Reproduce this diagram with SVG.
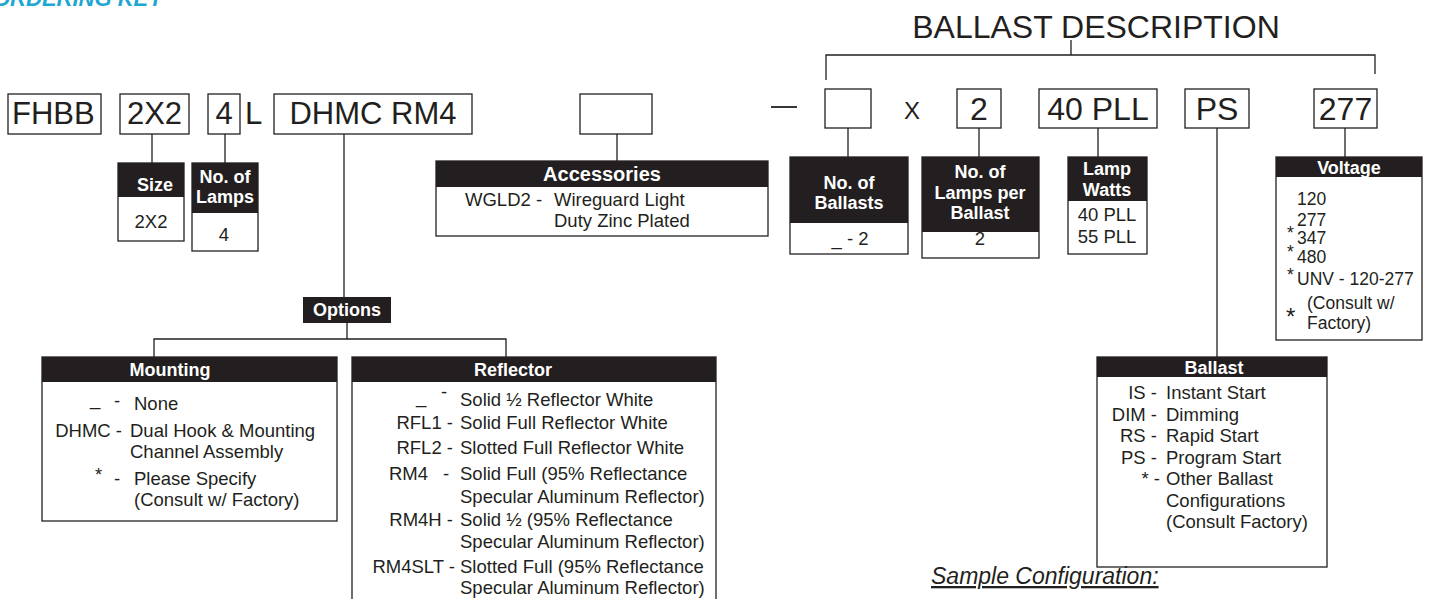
<svg xmlns="http://www.w3.org/2000/svg" width="1432" height="599" viewBox="0 0 1432 599">
<style>
.box{fill:#fff;stroke:#231f20;stroke-width:1.3}
.hdr{fill:#231f20}
.ln{stroke:#231f20;stroke-width:1.3;fill:none}
text{font-family:"Liberation Sans",Arial,Helvetica,sans-serif;fill:#231f20}
.ht{font-weight:bold;font-size:18px;fill:#fff;text-anchor:middle}
.t{font-size:18.5px}
.v{font-size:17.5px}
.e{text-anchor:end}
.m{text-anchor:middle}
.big{font-size:31px}
.bg2{font-size:32px;text-anchor:middle}
</style>
<rect width="1432" height="599" fill="#fff"/>
<text x="-7" y="6" font-size="22" font-style="italic" font-weight="bold" style="fill:#1ea7d2">ORDERING KEY</text>
<text x="1096" y="38" font-size="32" class="m">BALLAST DESCRIPTION</text>

<g id="connectors">
  <path class="ln" d="M1071 40V55M826 80V55H1375V74"/>
  <path class="ln" d="M152 134V163M225 134V163"/>
  <path class="ln" d="M344 134V297M347 323V339M154 357V339H506V357"/>
  <path class="ln" d="M617 134V161"/>
  <path class="ln" d="M848 128V157M979 128V157M1098 128V157M1217 128V357M1345 128V157"/>
  <line x1="771" y1="107" x2="797" y2="107" stroke="#231f20" stroke-width="1.8"/>
</g>

<g id="code-fhbb"><rect class="box" x="8" y="94" width="93" height="40"/><text class="big" x="12" y="124">FHBB</text></g>
<g id="code-size"><rect class="box" x="120" y="94" width="69" height="40"/><text class="big m" x="154.5" y="124">2X2</text></g>
<g id="code-lamps"><rect class="box" x="208" y="94" width="32" height="40"/><text class="big m" x="224" y="124">4</text><text class="big" x="245" y="124">L</text></g>
<g id="code-options"><rect class="box" x="274" y="94" width="198" height="40"/><text class="big m" x="373" y="124">DHMC RM4</text></g>
<g id="code-accessories"><rect class="box" x="580" y="94" width="72" height="40"/></g>
<g id="code-ballasts"><rect class="box" x="825" y="89" width="46" height="39"/></g>
<g id="x-sign"><text x="912" y="119" font-size="24" class="m">X</text></g>
<g id="code-lpb"><rect class="box" x="957" y="89" width="44" height="39"/><text class="bg2" x="979" y="120">2</text></g>
<g id="code-watts"><rect class="box" x="1039" y="89" width="118" height="39"/><text class="bg2" x="1098" y="120">40 PLL</text></g>
<g id="code-ballast"><rect class="box" x="1185" y="89" width="64" height="39"/><text class="bg2" x="1217" y="120">PS</text></g>
<g id="code-voltage"><rect class="box" x="1314" y="89" width="63" height="39"/><text class="bg2" x="1345.5" y="120">277</text></g>

<g id="size">
  <rect class="box" x="118" y="163" width="66" height="78"/><rect class="hdr" x="118" y="163" width="66" height="34"/>
  <text class="ht" x="155" y="191">Size</text>
  <text class="t m" x="151" y="228">2X2</text>
</g>
<g id="no-of-lamps">
  <rect class="box" x="192" y="163" width="66" height="88"/><rect class="hdr" x="192" y="163" width="66" height="50"/>
  <text class="ht" x="225" y="183">No. of</text><text class="ht" x="225" y="203">Lamps</text>
  <text class="t m" x="224" y="241">4</text>
</g>
<g id="accessories">
  <rect class="box" x="436" y="161" width="332" height="75"/><rect class="hdr" x="436" y="161" width="332" height="26"/>
  <text class="ht" x="602" y="181" style="font-size:20px">Accessories</text>
  <text class="t" x="465" y="206">WGLD2 -</text>
  <text class="t" x="554" y="206">Wireguard Light</text>
  <text class="t" x="554" y="227">Duty Zinc Plated</text>
</g>
<g id="no-of-ballasts">
  <rect class="box" x="790" y="157" width="118" height="97"/><rect class="hdr" x="790" y="157" width="118" height="66"/>
  <text class="ht" x="849" y="189">No. of</text><text class="ht" x="849" y="209">Ballasts</text>
  <text class="t m" x="850" y="245">_ - 2</text>
</g>
<g id="lamps-per-ballast">
  <rect class="box" x="922" y="157" width="117" height="101"/><rect class="hdr" x="922" y="157" width="117" height="75"/>
  <text class="ht" x="980" y="178">No. of</text><text class="ht" x="980" y="199">Lamps per</text><text class="ht" x="980" y="219">Ballast</text>
  <text class="t m" x="980" y="245">2</text>
</g>
<g id="lamp-watts">
  <rect class="box" x="1068" y="157" width="79" height="97"/><rect class="hdr" x="1068" y="157" width="79" height="44"/>
  <text class="ht" x="1107" y="175">Lamp</text><text class="ht" x="1107" y="196">Watts</text>
  <text class="t m" x="1107" y="221">40 PLL</text><text class="t m" x="1107" y="243">55 PLL</text>
</g>
<g id="voltage">
  <rect class="box" x="1276" y="157" width="146" height="183"/><rect class="hdr" x="1276" y="157" width="146" height="20"/>
  <text class="ht" x="1349" y="174">Voltage</text>
  <text class="v" x="1297" y="205">120</text>
  <text class="v" x="1297" y="226">277</text>
  <text class="v" x="1287" y="239">*</text><text class="v" x="1297" y="244">347</text>
  <text class="v" x="1287" y="258">*</text><text class="v" x="1297" y="263">480</text>
  <text class="v" x="1287" y="281">*</text><text class="v" x="1297" y="285">UNV - 120-277</text>
  <text x="1286" y="325" font-size="24">*</text><text class="v" x="1307" y="309">(Consult w/</text>
  <text class="v" x="1307" y="329">Factory)</text>
</g>
<g id="options">
  <rect class="hdr" x="303" y="297" width="88" height="26"/>
  <text class="ht" x="347" y="316">Options</text>
</g>
<g id="mounting">
  <rect class="box" x="42" y="357" width="295" height="164"/><rect class="hdr" x="42" y="357" width="295" height="25"/>
  <text class="ht" x="170" y="376">Mounting</text>
  <text class="t" x="90" y="405">_</text><text class="t" x="114" y="407">-</text><text class="t" x="134" y="410">None</text>
  <text class="t e" x="122" y="437">DHMC -</text>
  <text class="t" x="130" y="437">Dual Hook &amp; Mounting</text>
  <text class="t" x="130" y="458">Channel Assembly</text>
  <text class="t" x="95" y="481">*</text><text class="t" x="114" y="485">-</text><text class="t" x="134" y="485">Please Specify</text>
  <text class="t" x="134" y="506">(Consult w/ Factory)</text>
</g>
<g id="reflector">
  <rect class="box" x="352" y="357" width="364" height="250"/><rect class="hdr" x="352" y="357" width="364" height="25"/>
  <text class="ht" x="513" y="376">Reflector</text>
  <text class="t" x="416" y="403">_</text><text class="t" x="441" y="398">-</text><text class="t" x="460" y="406">Solid ½ Reflector White</text>
  <text class="t e" x="453" y="429">RFL1 -</text><text class="t" x="460" y="429">Solid Full Reflector White</text>
  <text class="t e" x="453" y="454">RFL2 -</text><text class="t" x="460" y="454">Slotted Full Reflector White</text>
  <text class="t e" x="428" y="480">RM4</text><text class="t" x="443" y="480">-</text><text class="t" x="460" y="480">Solid Full (95% Reflectance</text>
  <text class="t" x="460" y="503">Specular Aluminum Reflector)</text>
  <text class="t e" x="453" y="526">RM4H -</text><text class="t" x="460" y="526">Solid ½ (95% Reflectance</text>
  <text class="t" x="460" y="548">Specular Aluminum Reflector)</text>
  <text class="t e" x="455" y="573">RM4SLT -</text><text class="t" x="460" y="573">Slotted Full (95% Reflectance</text>
  <text class="t" x="460" y="594">Specular Aluminum Reflector)</text>
</g>
<g id="ballast">
  <rect class="box" x="1097" y="357" width="230" height="210"/><rect class="hdr" x="1097" y="357" width="230" height="20"/>
  <text class="ht" x="1214" y="374">Ballast</text>
  <text class="t e" x="1157" y="399">IS -</text><text class="t" x="1166" y="399">Instant Start</text>
  <text class="t e" x="1157" y="420.5">DIM -</text><text class="t" x="1166" y="420.5">Dimming</text>
  <text class="t e" x="1157" y="442">RS -</text><text class="t" x="1166" y="442">Rapid Start</text>
  <text class="t e" x="1157" y="463.5">PS -</text><text class="t" x="1166" y="463.5">Program Start</text>
  <text class="t e" x="1160" y="485">* -</text><text class="t" x="1166" y="485">Other Ballast</text>
  <text class="t" x="1166" y="506.5">Configurations</text>
  <text class="t" x="1166" y="528">(Consult Factory)</text>
</g>
<text x="931" y="584" font-size="23" font-style="italic" text-decoration="underline">Sample Configuration:</text>
</svg>
